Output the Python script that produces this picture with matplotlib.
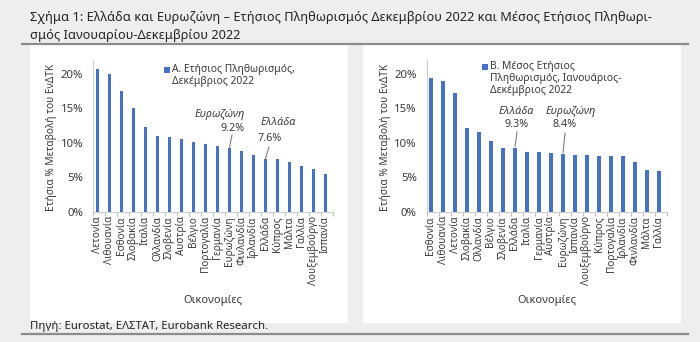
import matplotlib
matplotlib.use('Agg')
import matplotlib.pyplot as plt
from matplotlib.patches import Rectangle
from matplotlib.lines import Line2D
import numpy as np

plt.rcParams['font.family'] = ['Noto Sans', 'DejaVu Sans']

# ── data ─────────────────────────────────────────
countries_a = ['Λετονία', 'Λιθουανία', 'Εσθονία', 'Σλοβακία', 'Ιταλία', 'Ολλανδία',
               'Σλοβενία', 'Αυστρία', 'Βέλγιο', 'Πορτογαλία', 'Γερμανία', 'Ευρωζώνη',
               'Φινλανδία', 'Ιρλανδία', 'Ελλάδα', 'Κύπρος', 'Μάλτα', 'Γαλλία',
               'Λουξεμβούργο', 'Ισπανία']
values_a = [20.7, 20.0, 17.5, 15.0, 12.3, 11.0, 10.8, 10.5, 10.2, 9.8, 9.6, 9.2,
            8.8, 8.2, 7.6, 7.6, 7.3, 6.7, 6.2, 5.5]

countries_b = ['Εσθονία', 'Λιθουανία', 'Λετονία', 'Σλοβακία', 'Ολλανδία', 'Βέλγιο',
               'Σλοβενία', 'Ελλάδα', 'Ιταλία', 'Γερμανία', 'Αυστρία', 'Ευρωζώνη',
               'Ισπανία', 'Λουξεμβούργο', 'Κύπρος', 'Πορτογαλία', 'Ιρλανδία',
               'Φινλανδία', 'Μάλτα', 'Γαλλία']
values_b = [19.4, 18.9, 17.2, 12.1, 11.6, 10.3, 9.3, 9.3, 8.7, 8.7, 8.6, 8.4,
            8.3, 8.2, 8.1, 8.1, 8.1, 7.2, 6.1, 5.9]

yticks = [0, 5, 10, 15, 20]

W, H = 700, 342
BLUE = '#4472c4'
TXT = '#3a3a3a'

fig = plt.figure(figsize=(W / 100, H / 100), dpi=100)
fig.patch.set_facecolor('#eeeeee')


def px(x0, y0, x1, y1):
    # pixel box (top-left origin) -> figure fraction [l, b, w, h]
    return [x0 / W, 1 - y1 / H, (x1 - x0) / W, (y1 - y0) / H]


# white panels (behind everything)
for x0, x1 in [(30, 348), (363, 681)]:
    l, b, w, h = px(x0, 45, x1, 323)
    fig.patches.append(Rectangle((l, b), w, h, transform=fig.transFigure,
                                 facecolor='white', edgecolor='none', zorder=-10))

# title and separator lines
fig.text(30 / W, 1 - 18 / H,
         'Σχήμα 1: Ελλάδα και Ευρωζώνη – Ετήσιος Πληθωρισμός Δεκεμβρίου 2022 και Μέσος Ετήσιος Πληθωρι-',
         fontsize=9.2, color='#222222', va='center', ha='left')
fig.text(30 / W, 1 - 35 / H, 'σμός Ιανουαρίου-Δεκεμβρίου 2022',
         fontsize=9.2, color='#222222', va='center', ha='left')
for yy in (44, 334):
    fig.lines.append(Line2D([22 / W, 688 / W], [1 - yy / H, 1 - yy / H],
                            transform=fig.transFigure, color='#8c8c8c', lw=1.6))
fig.text(30 / W, 1 - 327 / H, 'Πηγή: Eurostat, ΕΛΣΤΑΤ, Eurobank Research.',
         fontsize=8.2, color='#222222', va='center', ha='left')


def panel(rect, names, vals, legend_label, notes, legend_xy, ylabel_x):
    ax = fig.add_axes(px(*rect), zorder=5)
    ax.set_facecolor('none')
    x = np.arange(len(names))
    ax.bar(x, vals, width=0.28, color=BLUE, zorder=3)
    ax.set_xlim(-0.375, len(names) - 0.375)
    ax.set_ylim(0, 22)
    ax.set_yticks(yticks)
    ax.set_yticklabels([f'{v}%' for v in yticks])
    ax.set_xticks(x)
    ax.set_xticklabels(names, rotation=90)
    ax.set_xticks(np.arange(len(names) + 1) - 0.375, minor=True)
    ax.tick_params(axis='y', length=0, pad=7, labelsize=8.2, colors=TXT)
    ax.tick_params(axis='x', which='major', length=0, pad=3, labelsize=7.2, colors=TXT)
    ax.tick_params(axis='x', which='minor', length=3, color='#bfbfbf', width=0.8)
    for s in ('top', 'right'):
        ax.spines[s].set_visible(False)
    for s in ('left', 'bottom'):
        ax.spines[s].set_color('#d0d0d0')
        ax.spines[s].set_linewidth(0.9)
    ax.set_xlabel('Οικονομίες', fontsize=8, color=TXT, labelpad=7)
    fig.text(ylabel_x / W, 1 - 137 / H, 'Ετήσια % Μεταβολή του ΕνΔΤΚ', rotation=90,
             fontsize=7.3, color=TXT, ha='center', va='center')
    # legend
    lx, ly = legend_xy
    fig.patches.append(Rectangle(((lx - 3) / W, 1 - (ly + 3) / H), 6 / W, 6 / H,
                                 transform=fig.transFigure, facecolor=BLUE,
                                 edgecolor='none'))
    fig.text((lx + 5) / W, 1 - (ly - 6) / H, legend_label, fontsize=7.4,
             color=TXT, ha='left', va='top', linespacing=1.1)
    # annotations
    for name_xy, name, val_xy, idx, line_start in notes:
        ax.text(*name_xy, name, style='italic', fontsize=7.8, color=TXT,
                ha='center', va='center')
        ax.text(*val_xy, f'{vals[idx]}%', fontsize=7.8, color=TXT,
                ha='center', va='center')
        ax.annotate('', xy=(idx, vals[idx] + 0.15), xytext=line_start,
                    arrowprops=dict(arrowstyle='-', color='#808080', lw=0.8,
                                    shrinkA=0, shrinkB=0))
    return ax


panel((93, 60, 333, 212), countries_a, values_a,
      'Α. Ετήσιος Πληθωρισμός,\nΔεκέμβριος 2022',
      [((10.2, 14.06), 'Ευρωζώνη', (11.29, 12.03), 11, (11.21, 11.16)),
       ((15.04, 12.9), 'Ελλάδα', (14.375, 10.58), 14, (14.29, 9.42))],
      (167, 70), 52)

panel((426.5, 60, 666.5, 212), countries_b, values_b,
      'Β. Μέσος Ετήσιος\nΠληθωρισμός, Ιανουάριος-\nΔεκέμβριος 2022',
      [((7.08, 14.5), 'Ελλάδα', (7.17, 12.6), 7, (7.17, 11.6)),
       ((11.67, 14.5), 'Ευρωζώνη', (11.17, 12.6), 11, (11.17, 11.45))],
      (485, 67), 385)

fig.savefig('out.png', dpi=100, facecolor=fig.get_facecolor())
